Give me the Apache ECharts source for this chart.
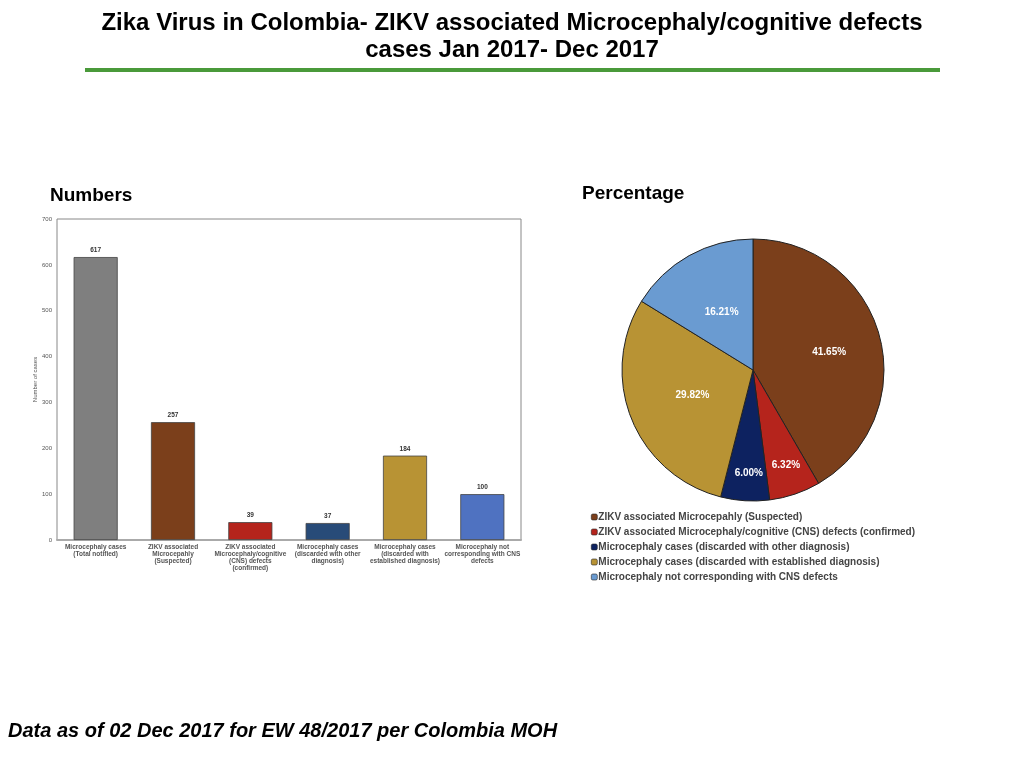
<!DOCTYPE html>
<html>
	<head>
		<meta charset="utf-8">
		<title>Zika Colombia</title>
		<script src="https://cdn.jsdelivr.net/npm/echarts@6/dist/echarts.min.js"></script>
	</head>
	<body style="margin: 0; overflow: hidden; background: #fff;">
		<div id="main" style="width: 1024px; height: 768px;"></div>
		<script type="text/javascript">
			// 柱状图数据
			var barCategories = [
				'Microcephaly cases\n(Total notified)',
				'ZIKV associated\nMicrocepahly\n(Suspected)',
				'ZIKV associated\nMicrocephaly/cognitive\n(CNS) defects\n(confirmed)',
				'Microcephaly cases\n(discarded with other\ndiagnosis)',
				'Microcephaly cases\n(discarded with\nestablished diagnosis)',
				'Microcephaly not\ncorresponding with CNS\ndefects'
			];
			var barValues = [617, 257, 39, 37, 184, 100];
			var barColors = ['#7f7f7f', '#7b3f1b', '#b5241c', '#284b78', '#b89334', '#4f72c1'];
			var yTicks = [0, 100, 200, 300, 400, 500, 600, 700];

			// 饼图数据
			var pieNames = [
				'ZIKV associated Microcepahly (Suspected)',
				'ZIKV associated Microcephaly/cognitive (CNS) defects (confirmed)',
				'Microcephaly cases (discarded with other diagnosis)',
				'Microcephaly cases (discarded with established diagnosis)',
				'Microcephaly not corresponding with CNS defects'
			];
			var pieValues = [257, 39, 37, 184, 100];
			var pieColors = ['#7b3f1b', '#b5241c', '#0d2260', '#b89334', '#6a9bd1'];
			// 标签微调（Excel 把小扇区的标签放得更靠外）
			var pieLabelOffsets = [[10, 0], [11, 30], [0, 35], [3, 0], [2, 2]];

			var myChart = echarts.init(document.getElementById('main'));

			var option = {
				animation: false,
				title: [
					{
						text: 'Zika Virus in Colombia- ZIKV associated Microcephaly/cognitive defects\ncases Jan 2017- Dec 2017',
						left: 'center',
						top: 5,
						textStyle: {
							fontFamily: 'Liberation Sans Narrow, Liberation Sans, Arial',
							fontSize: 24,
							fontWeight: 'bold',
							color: '#000',
							lineHeight: 27
						}
					},
					{
						text: 'Numbers',
						left: 45,
						top: 181,
						textStyle: { fontFamily: 'Liberation Sans Narrow, Liberation Sans', fontSize: 19, fontWeight: 'bold', color: '#000' }
					},
					{
						text: 'Percentage',
						left: 577,
						top: 179,
						textStyle: { fontFamily: 'Liberation Sans Narrow, Liberation Sans', fontSize: 19, fontWeight: 'bold', color: '#000' }
					},
					{
						text: 'Data as of 02 Dec 2017 for EW 48/2017 per Colombia MOH',
						left: 3,
						top: 716,
						textStyle: { fontFamily: 'Liberation Sans, Arial', fontSize: 20, fontWeight: 'bold', fontStyle: 'italic', color: '#000' }
					}
				],
				graphic: [
					{
						type: 'rect',
						shape: { x: 85, y: 68, width: 855, height: 4 },
						style: { fill: '#4a9a3a' }
					}
				],
				legend: {
					orient: 'vertical',
					left: 586,
					top: 507,
					itemWidth: 6,
					itemHeight: 6,
					itemGap: 5,
					data: pieNames,
					textStyle: { fontFamily: 'Liberation Sans, Arial', fontSize: 10, fontWeight: 'bold', color: '#444', padding: [0, 0, 0, -4] },
					itemStyle: { borderColor: '#222', borderWidth: 0.6 }
				},
				grid: {
					left: 57,
					right: 503,
					top: 219,
					bottom: 228,
					show: true,
					borderColor: '#888',
					borderWidth: 1
				},
				xAxis: {
					type: 'category',
					data: barCategories,
					axisLine: { lineStyle: { color: '#aaa', width: 2 } },
					axisTick: { show: false },
					axisLabel: {
						interval: 0,
						fontFamily: 'Liberation Sans, Arial',
						fontSize: 6.5,
						fontWeight: 'bold',
						color: '#555',
						lineHeight: 7,
						margin: 4
					}
				},
				yAxis: {
					type: 'value',
					min: yTicks[0],
					max: yTicks[yTicks.length - 1],
					interval: 100,
					name: 'Number of cases',
					nameLocation: 'middle',
					nameGap: 19,
					nameTextStyle: { fontFamily: 'Liberation Sans, Arial', fontSize: 6, color: '#555' },
					splitLine: { show: false },
					axisLine: { show: false },
					axisTick: { show: false },
					axisLabel: { fontFamily: 'Liberation Sans, Arial', fontSize: 6, color: '#555', margin: 5 }
				},
				series: [
					{
						name: 'Numbers',
						type: 'bar',
						barWidth: '57%',
						data: barValues.map(function (v, i) {
							return { value: v, itemStyle: { color: barColors[i] } };
						}),
						itemStyle: { borderColor: '#444', borderWidth: 0.8 },
						label: {
							show: true,
							position: 'top',
							distance: 3,
							fontFamily: 'Liberation Sans, Arial',
							fontSize: 6.5,
							fontWeight: 'bold',
							color: '#333'
						}
					},
					{
						name: 'Percentage',
						type: 'pie',
						center: [753, 370],
						radius: 131,
						startAngle: 90,
						clockwise: true,
						data: pieValues.map(function (v, i) {
							return {
								name: pieNames[i],
								value: v,
								itemStyle: { color: pieColors[i] },
								label: { offset: pieLabelOffsets[i] }
							};
						}),
						itemStyle: { borderColor: '#222', borderWidth: 1 },
						label: {
							show: true,
							position: 'inner',
							formatter: function (p) { return p.percent.toFixed(2) + '%'; },
							fontFamily: 'Liberation Sans, Arial',
							fontSize: 10,
							fontWeight: 'bold',
							color: '#fff'
						},
						labelLine: { show: false },
						emphasis: { disabled: true }
					}
				]
			};
			myChart.setOption(option);
		</script>
	</body>
</html>
